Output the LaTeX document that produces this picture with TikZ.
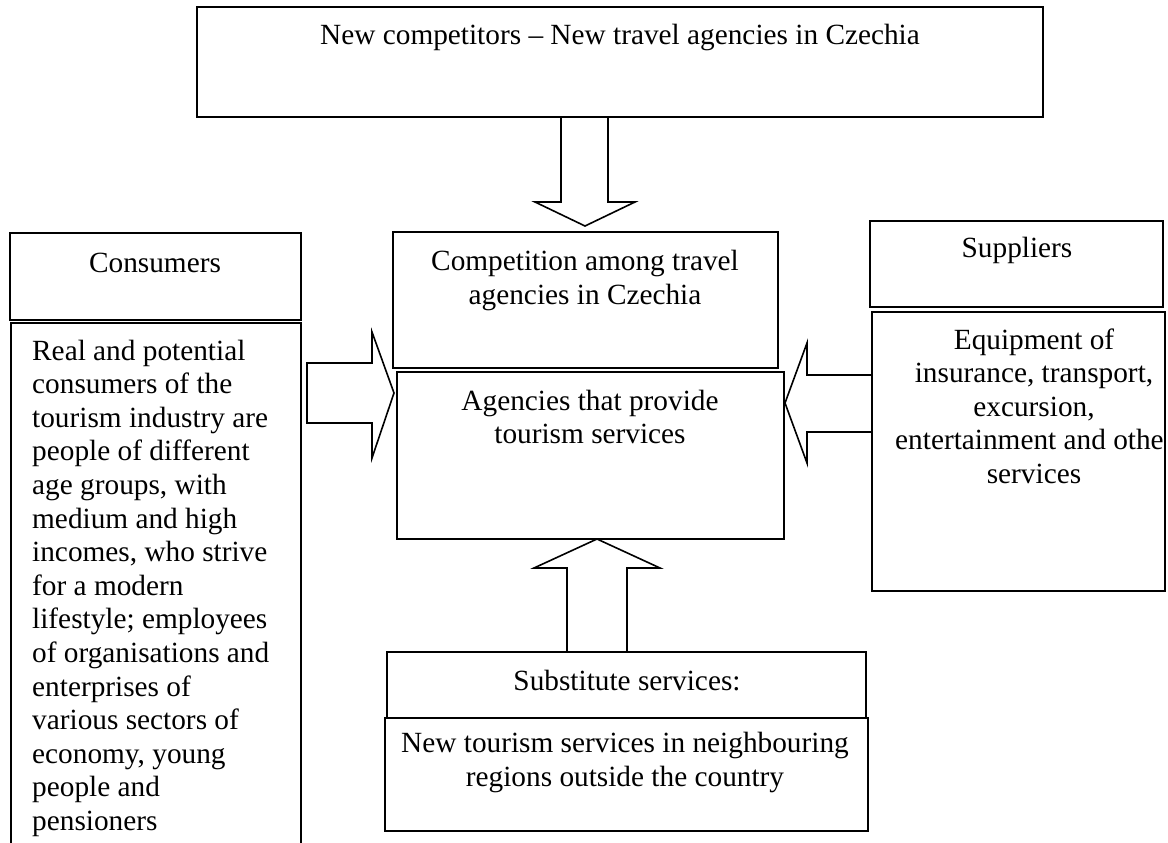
\documentclass[tikz,border=0pt]{standalone}
\usepackage{fontspec}
\setmainfont{Liberation Serif}
\usetikzlibrary{fit}
\tikzset{
  box/.style={draw=black, line width=1.6pt, inner sep=0pt, fill=none},
  blockarrow/.style={draw=black, line width=1.6pt, fill=white, line join=miter},
  txt/.style={font=\fontsize{29.3}{33.6}\selectfont, inner sep=0pt, text=black}
}
\begin{document}
\begin{tikzpicture}[x=1pt,y=-1pt]
\clip (0,0) rectangle (1168,843);
\fill[white] (0,0) rectangle (1168,843);

% boxes
\node[box, fit={(197,7) (1043,117)}] (topbox) {};
\node[box, fit={(10,233) (301,320)}] (consbox) {};
\node[box, fit={(11,323) (301,860)}] (constextbox) {};
\node[box, fit={(393,232) (778,368)}] (compbox) {};
\node[box, fit={(397,372) (784,539)}] (agencybox) {};
\node[box, fit={(870,221) (1163,307)}] (suppbox) {};
\node[box, fit={(872,312) (1165,591)}] (equipbox) {};
\node[box, fit={(387,652) (866,718)}] (subbox) {};
\node[box, fit={(385,718) (868,831)}] (newbox) {};

% block arrows
\draw[blockarrow] (561,117) -- (561,202) -- (535,202) -- (585,226) -- (635,202) -- (608,202) -- (608,117) -- cycle;
\draw[blockarrow] (307,363) -- (372,363) -- (372,332) -- (394,393) -- (372,458) -- (372,423) -- (307,423) -- cycle;
\draw[blockarrow] (872,375) -- (807,375) -- (807,343) -- (785,403) -- (807,463) -- (807,432) -- (872,432) -- cycle;
\draw[blockarrow] (567,652) -- (567,568) -- (534,568) -- (597,539) -- (660,568) -- (627,568) -- (627,652) -- cycle;

% texts
\node[txt, anchor=base] (toptxt) at (620,45) {New competitors – New travel agencies in Czechia};
\node[txt, anchor=base] (constitle) at (155,272) {Consumers};
\foreach \t [count=\i] in {Real and potential, consumers of the, tourism industry are, people of different, {age groups, with}, medium and high, {incomes, who strive}, for a modern, lifestyle; employees, of organisations and, enterprises of, various sectors of, {economy, young}, people and, pensioners}
  \node[txt, anchor=base west] (cons\i) at (32,{360+33.6*(\i-1)}) {\t};
\node[txt, anchor=base] (comp1) at (585,270) {Competition among travel};
\node[txt, anchor=base] (comp2) at (585,304) {agencies in Czechia};
\node[txt, anchor=base] (ag1) at (590,410) {Agencies that provide};
\node[txt, anchor=base] (ag2) at (590,443) {tourism services};
\node[txt, anchor=base] (supp) at (1017,257) {Suppliers};
\node[txt, anchor=base] (eq1) at (1034,349) {Equipment of};
\node[txt, anchor=base] (eq2) at (1034,382.6) {insurance, transport,};
\node[txt, anchor=base] (eq3) at (1034,416.2) {excursion,};
\node[txt, anchor=base west] (eq4) at (895,449.8) {entertainment and othe};
\node[txt, anchor=base] (eq5) at (1034,483.4) {services};
\node[txt, anchor=base] (sub) at (627,690) {Substitute services:};
\node[txt, anchor=base] (new1) at (625,752) {New tourism services in neighbouring};
\node[txt, anchor=base] (new2) at (625,786) {regions outside the country};
\end{tikzpicture}
\end{document}
